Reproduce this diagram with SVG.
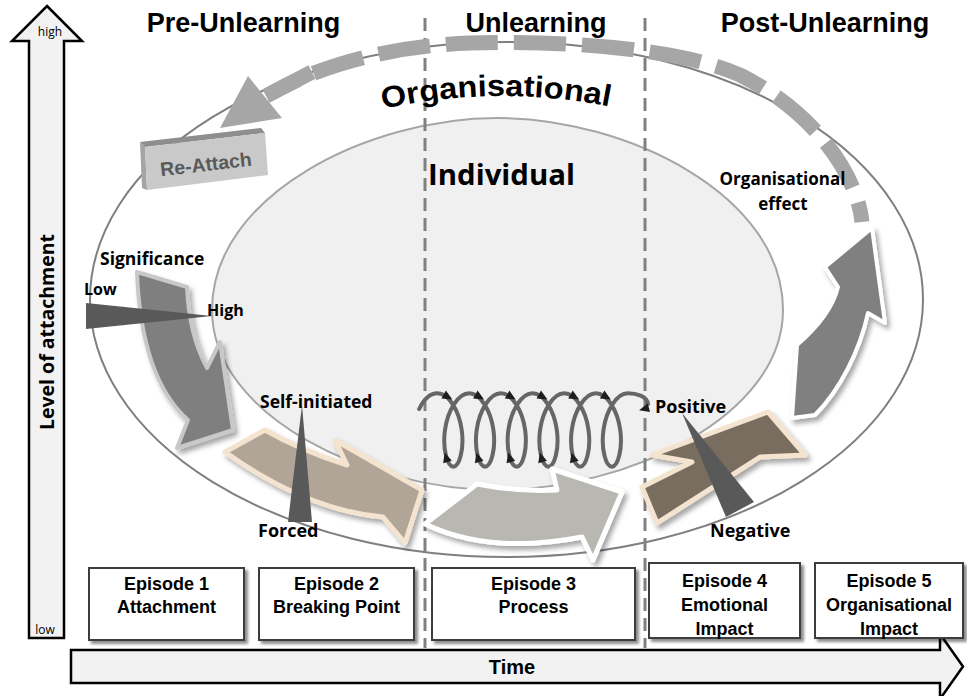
<svg xmlns="http://www.w3.org/2000/svg" width="967" height="696" viewBox="0 0 967 696">
  <style>
    .hdr { font-family: "Liberation Sans", Arial, sans-serif; font-weight: bold; font-size: 27px; text-anchor: middle; fill: #000; }
    .lbl { font-family: "Open Sans", "Liberation Sans", sans-serif; font-weight: bold; font-size: 18px; fill: #000; }
    .ep { font-family: "Liberation Sans", Arial, sans-serif; font-weight: bold; font-size: 18px; text-anchor: middle; fill: #000; }
    .ebox { fill: #fff; stroke: #3c3c3c; stroke-width: 2; filter: url(#bsh); }
    .axis { fill: #f2f2f2; stroke: #000; stroke-width: 2.5; stroke-linejoin: miter; }
    .wedge { fill: #595959; }
    .phase { fill: none; stroke: #808080; stroke-width: 3; stroke-dasharray: 13 7; }
    .coil { fill: none; stroke: #666; stroke-width: 4; stroke-linecap: round; }
    .small { font-family: "Open Sans", "Liberation Sans", sans-serif; font-size: 12px; fill: #000; }
  </style>
  <defs>
    <filter id="sh" x="-20%" y="-20%" width="150%" height="150%">
      <feDropShadow dx="3" dy="4" stdDeviation="2.5" flood-color="#000" flood-opacity="0.35"/>
    </filter>
    <filter id="bsh" x="-10%" y="-10%" width="130%" height="130%">
      <feDropShadow dx="3" dy="3" stdDeviation="1.5" flood-color="#000" flood-opacity="0.45"/>
    </filter>
    <path id="ah" d="M5,0 L-5,-4.5 L-5,4.5 Z" fill="#1e1e1e"/>
    <path id="orgArc" d="M383,109 Q497,84 612,107"/>
  </defs>

  <!-- axes -->
  <g id="attachment-axis">
    <polygon class="axis" points="47,6 82,41 64,41 64,638 29,638 29,41 12,41"/>
    <text class="small" x="50" y="36" text-anchor="middle">high</text>
    <text class="small" x="45" y="634" text-anchor="middle">low</text>
    <text class="lbl" style="font-size:19.5px" transform="translate(54,332) rotate(-90)" text-anchor="middle">Level of attachment</text>
  </g>
  <g id="time-axis">
    <polygon class="axis" points="71,650 940,650 940,634 963,666.5 940,699 940,683 71,683"/>
    <text class="ep" x="512" y="674" style="font-size:20px">Time</text>
  </g>

  <!-- organisational and individual spheres -->
  <g id="organisational">
    <ellipse cx="506.5" cy="299.5" rx="416.5" ry="257.5" fill="#fff" stroke="#7f7f7f" stroke-width="2"/>
  </g>
  <g id="individual">
    <path d="M212,310 C212,194.8 368.8,118 497.5,118 C626.2,118 783,194.8 783,310 C783,416.8 626.2,490 497.5,490 C368.8,490 212,416.8 212,310 Z" fill="#f0f0f0" stroke="#a6a6a6" stroke-width="2"/>
  </g>

  <!-- phase boundaries -->
  <g id="phase-lines">
    <line class="phase" x1="425" y1="18" x2="425" y2="648"/>
    <line class="phase" x1="645" y1="18" x2="645" y2="648"/>
  </g>

  <!-- headers -->
  <g id="phase-headers">
    <text class="hdr" x="243.5" y="32">Pre-Unlearning</text>
    <text class="hdr" x="536" y="32">Unlearning</text>
    <text class="hdr" x="825" y="32">Post-Unlearning</text>
  </g>

  <g id="sphere-labels">
    <text font-family="Liberation Sans, Arial, sans-serif" font-weight="bold" font-size="30"><textPath href="#orgArc" textLength="228" lengthAdjust="spacingAndGlyphs">Organisational</textPath></text>
    <text class="lbl" x="428" y="185" style="font-size:29px" textLength="147" lengthAdjust="spacingAndGlyphs">Individual</text>
  </g>

  <!-- feedback loop back to attachment -->
  <g id="connectors">
    <path d="M862,222 C858,180 820,115 740,75 C680,48 560,40 470,43 C390,46 320,65 268,95" fill="none" stroke="#a6a6a6" stroke-width="15" stroke-dasharray="52 16" stroke-dashoffset="32"/>
    <path d="M312,72 L266,96" fill="none" stroke="#a6a6a6" stroke-width="15"/>
    <polygon points="248,76 282,118 220,128" fill="#a6a6a6"/>

    <!-- unlearning coil -->
    <path class="coil" d="M419.2,409 C423.8,399.4 430.67,393.3 437.5,393.3
      C448.68,393.3 459.09,410.78 461.73,430 C464.37,449.22 459.24,466.7 453.35,466.7 C447.46,466.7 442.33,449.22 444.97,430 C447.61,410.78 458.02,393.3 469.2,393.3
      C480.38,393.3 490.79,410.78 493.43,430 C496.07,449.22 490.94,466.7 485.05,466.7 C479.16,466.7 474.03,449.22 476.67,430 C479.31,410.78 489.72,393.3 500.9,393.3
      C512.08,393.3 522.49,410.78 525.13,430 C527.77,449.22 522.64,466.7 516.75,466.7 C510.86,466.7 505.73,449.22 508.37,430 C511.01,410.78 521.42,393.3 532.6,393.3
      C543.78,393.3 554.19,410.78 556.83,430 C559.47,449.22 554.34,466.7 548.45,466.7 C542.56,466.7 537.43,449.22 540.07,430 C542.71,410.78 553.12,393.3 564.3,393.3
      C575.48,393.3 585.89,410.78 588.53,430 C591.17,449.22 586.04,466.7 580.15,466.7 C574.26,466.7 569.13,449.22 571.77,430 C574.41,410.78 584.82,393.3 596,393.3
      C607.18,393.3 617.59,410.78 620.23,430 C622.87,449.22 617.74,466.7 611.85,466.7 C605.96,466.7 600.83,449.22 603.47,430 C606.11,410.78 616.52,393.3 627.7,393.3
      C636,393.3 647,396 648,404"/>
    <use href="#ah" transform="translate(448,397) rotate(30)"/>
    <use href="#ah" transform="translate(479.7,397) rotate(30)"/>
    <use href="#ah" transform="translate(511.4,397) rotate(30)"/>
    <use href="#ah" transform="translate(543.1,397) rotate(30)"/>
    <use href="#ah" transform="translate(574.8,397) rotate(30)"/>
    <use href="#ah" transform="translate(606.5,397) rotate(30)"/>
    <use href="#ah" transform="translate(446.1,457.3) rotate(-106)"/>
    <use href="#ah" transform="translate(477.8,457.3) rotate(-106)"/>
    <use href="#ah" transform="translate(509.5,457.3) rotate(-106)"/>
    <use href="#ah" transform="translate(541.2,457.3) rotate(-106)"/>
    <use href="#ah" transform="translate(572.9,457.3) rotate(-106)"/>
    <use href="#ah" transform="translate(644,409) rotate(165)"/>
  </g>

  <!-- re-attach block -->
  <g id="re-attach">
    <polygon points="140,142 261,128 265,133 145,147" fill="#8e8e8e"/>
    <polygon points="140,142 145,147 147,190 142,188" fill="#a4a4a4"/>
    <polygon points="145,147 265,133 268,175 147,190" fill="#c9c9c9"/>
    <text x="206" y="171" font-family="Liberation Sans, Arial, sans-serif" font-weight="bold" font-size="19.5" fill="#595959" text-anchor="middle" transform="rotate(-6.6 206 165)">Re-Attach</text>
  </g>

  <!-- episode 1: significance -->
  <g id="significance">
    <path d="M137,272 L187,287 Q189,335 207,368 L220,342 L233,430 L177,448 L188,420 C160,395 140,350 137,272 Z" fill="#7f7f7f" stroke="#c8c8c8" stroke-width="4" stroke-linejoin="round" filter="url(#sh)"/>
    <polygon class="wedge" points="86,303 86,329 212,316"/>
    <text class="lbl" x="100" y="265" style="font-size:17.5px">Significance</text>
    <text class="lbl" x="84" y="295" style="font-size:16px">Low</text>
    <text class="lbl" x="207" y="316" style="font-size:16px">High</text>
  </g>

  <!-- episode 2: breaking point -->
  <g id="breaking-point">
    <path d="M225,452 L265,430 Q300,450 347,465 L335,440 L422,490 L405,543 L383,517 Q306,510 225,452 Z" fill="#b1a597" stroke="#f3e3cf" stroke-width="5" stroke-linejoin="round" filter="url(#sh)"/>
    <polygon class="wedge" points="302,405 288,522 312,522"/>
    <text class="lbl" x="260" y="408" style="font-size:17.5px">Self-initiated</text>
    <text class="lbl" x="258" y="537">Forced</text>
  </g>

  <!-- episode 3: process -->
  <g id="process">
    <path d="M425,524 L477,484 Q517,492 557,490 L552,469 L622,492 L593,560 L582,537 Q490,555 425,524 Z" fill="#b9b7b1" stroke="#fff" stroke-width="5" stroke-linejoin="round" filter="url(#sh)"/>
  </g>

  <!-- episode 4: emotional impact -->
  <g id="emotional-impact">
    <path d="M768,412 L805,455 L760,457 L657,523 L642,487 L692,462 L652,455 Z" fill="#796d61" stroke="#f3e3cf" stroke-width="5" stroke-linejoin="round" filter="url(#sh)"/>
    <polygon class="wedge" points="682,413 726,517 754,502"/>
    <text class="lbl" x="655" y="413">Positive</text>
    <text class="lbl" x="710" y="537">Negative</text>
  </g>

  <!-- episode 5: organisational effect -->
  <g id="organisational-effect">
    <path d="M792,418 L797,345 C812,332 832,312 838,287 L825,267 L872,228 L885,323 L868,313 C860,350 840,390 815,415 Z" fill="#808080" stroke="#fff" stroke-width="4" stroke-linejoin="round" filter="url(#sh)"/>
    <text class="lbl" x="782.5" y="185" style="font-size:17px" text-anchor="middle">Organisational</text>
    <text class="lbl" x="783" y="210" style="font-size:17px" text-anchor="middle">effect</text>
  </g>

  <!-- episode boxes -->
  <g id="episode-1">
    <rect class="ebox" x="89" y="568" width="155" height="72"/>
    <text class="ep" x="166.5" y="590">Episode 1</text>
    <text class="ep" x="166.5" y="613">Attachment</text>
  </g>
  <g id="episode-2">
    <rect class="ebox" x="259" y="568" width="155" height="72"/>
    <text class="ep" x="336.5" y="590">Episode 2</text>
    <text class="ep" x="336.5" y="613">Breaking Point</text>
  </g>
  <g id="episode-3">
    <rect class="ebox" x="432" y="568" width="203" height="72"/>
    <text class="ep" x="533.5" y="590">Episode 3</text>
    <text class="ep" x="533.5" y="613">Process</text>
  </g>
  <g id="episode-4">
    <rect class="ebox" x="649" y="563" width="151" height="75"/>
    <text class="ep" x="724.5" y="587">Episode 4</text>
    <text class="ep" x="724.5" y="611">Emotional</text>
    <text class="ep" x="724.5" y="635">Impact</text>
  </g>
  <g id="episode-5">
    <rect class="ebox" x="815" y="563" width="148" height="75"/>
    <text class="ep" x="889" y="587">Episode 5</text>
    <text class="ep" x="889" y="611">Organisational</text>
    <text class="ep" x="889" y="635">Impact</text>
  </g>
</svg>
